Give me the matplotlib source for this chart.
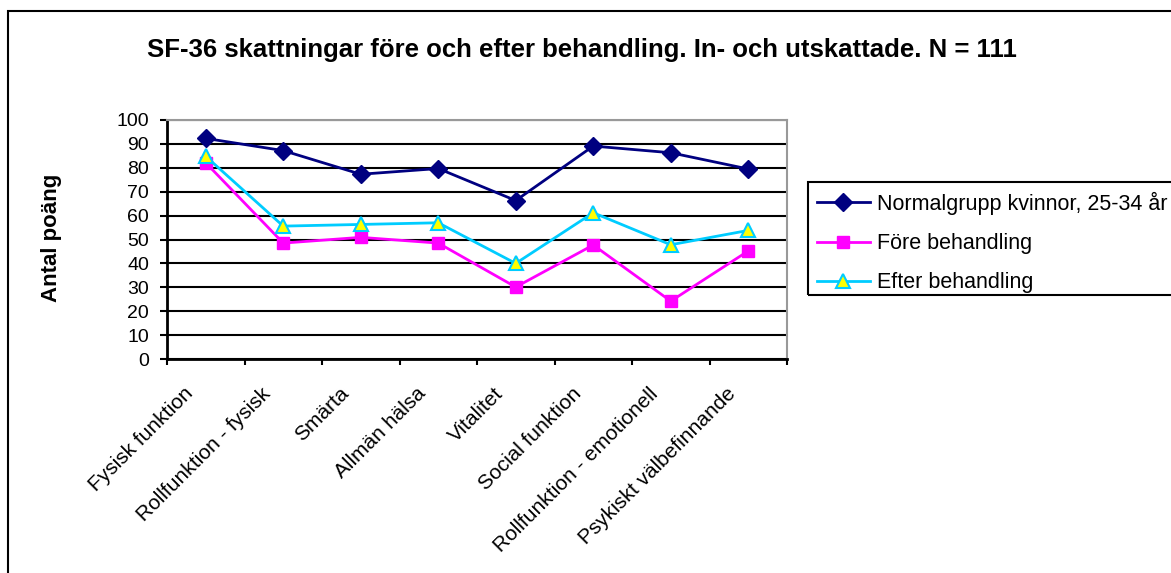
import matplotlib
matplotlib.use("Agg")
import matplotlib.pyplot as plt
import matplotlib.transforms as mtransforms
from matplotlib.lines import Line2D
from matplotlib.patches import Rectangle

plt.rcParams["font.family"] = ["Liberation Sans", "DejaVu Sans"]

categories = ["Fysisk funktion", "Rollfunktion - fysisk", "Smärta", "Allmän hälsa",
              "Vitalitet", "Social funktion", "Rollfunktion - emotionell",
              "Psykiskt välbefinnande"]
normal = [92.3, 87.2, 77.3, 79.7, 66.3, 89.1, 86.3, 79.5]
fore = [82.1, 48.5, 50.9, 48.5, 30.1, 47.7, 24.2, 45.2]
efter = [84.8, 55.6, 56.3, 57.0, 40.0, 61.2, 47.8, 53.8]
labels = ["Normalgrupp kvinnor, 25-34 år", "Före behandling", "Efter behandling"]
title = "SF-36 skattningar före och efter behandling. In- och utskattade. N = 111"

W, H = 1171, 573
fig = plt.figure(figsize=(W / 100, H / 100), dpi=100)
ax = fig.add_axes([167 / W, 1 - 359 / H, 620 / W, 239 / H])

styles = [
    dict(color="#000080", lw=2, marker="D", ms=9, mfc="#000080", mec="#000080"),
    dict(color="#FF00FF", lw=2, marker="s", ms=9, mfc="#FF00FF", mec="#FF00FF"),
    dict(color="#00CCFF", lw=2, marker="^", ms=10, mfc="#FFFF00", mec="#00CCFF", mew=1.5),
]

x = range(len(categories))
for values, st in zip([normal, fore, efter], styles):
    ax.plot(x, values, "-", zorder=5, **st)

ax.set_xlim(-0.5, len(categories) - 0.5)
ax.set_ylim(0, 100)
ax.set_yticks(range(0, 101, 10))
ax.yaxis.grid(True, color="black", lw=1.5)
ax.set_axisbelow(True)
ax.tick_params(axis="y", labelsize=14, length=5, width=1.5, direction="out", pad=8)

# ticks sit on category boundaries, labels at category centres
ax.set_xticks([i - 0.5 for i in range(len(categories) + 1)])
ax.set_xticklabels([])
ax.set_xticks(list(x), minor=True)
ax.set_xticklabels(categories, minor=True, rotation=45, ha="right",
                   va="top", rotation_mode="anchor", fontsize=15)
ax.tick_params(axis="x", which="major", length=4.5, width=1.5, direction="out")
ax.tick_params(axis="x", which="minor", length=0, pad=8)
shift = mtransforms.ScaledTranslation(-22 / 100, -14 / 100, fig.dpi_scale_trans)
for lab in ax.get_xticklabels(minor=True):
    lab.set_transform(lab.get_transform() + shift)

for side in ("left", "bottom"):
    ax.spines[side].set_color("black")
    ax.spines[side].set_linewidth(2)
for side in ("top", "right"):
    ax.spines[side].set_color("#999999")
    ax.spines[side].set_linewidth(1.5)

fig.text(582 / W, 1 - 50 / H, title, ha="center", va="center",
         fontsize=18.5, fontweight="bold")
fig.text(52 / W, 1 - 238 / H, "Antal poäng", ha="center", va="center",
         rotation=90, fontsize=16, fontweight="bold")

# legend, its frame runs off the right edge like the original
handles = [Line2D([], [], **st) for st in styles]
fig.legend(handles, labels, loc="upper left", bbox_to_anchor=(808 / W, 1 - 183 / H),
           frameon=False, fontsize=15.5, handlelength=2.47, handletextpad=0.33,
           labelspacing=0.85, borderaxespad=0)
fig.patches.append(Rectangle((808 / W, 1 - 295 / H), 400 / W, 113 / H,
                             transform=fig.transFigure, fill=False,
                             edgecolor="black", lw=1.5))

# outer chart border
fig.patches.append(Rectangle((8 / W, -0.05), 1.1, 1 - 11 / H + 0.05,
                             transform=fig.transFigure, fill=False,
                             edgecolor="black", lw=1.5))

fig.savefig("out.png", dpi=100)
